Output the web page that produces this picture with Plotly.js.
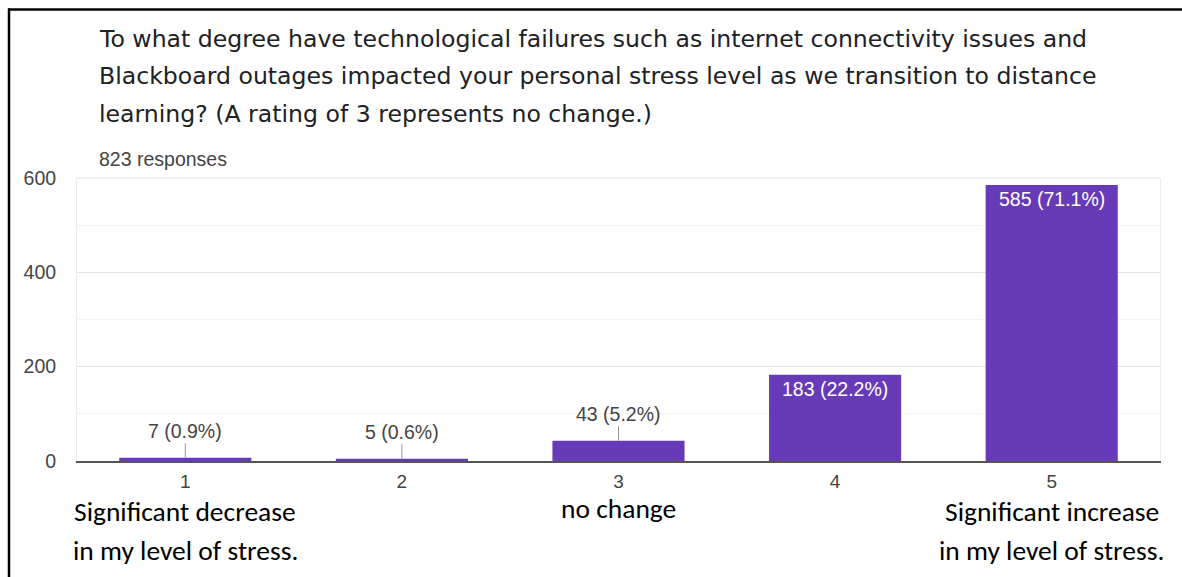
<!DOCTYPE html>
<html><head><meta charset="utf-8">
<script src="https://cdn.plot.ly/plotly-3.0.1.min.js"></script>
<style>html,body{margin:0;padding:0;background:#fff;}#chart{width:1182px;height:577px;}</style>
</head><body><div id="chart"></div>
<script>
const categories = ["1", "2", "3", "4", "5"];
const counts = [7, 5, 43, 183, 585];
const percents = ["0.9%", "0.6%", "5.2%", "22.2%", "71.1%"];
const titleLines = [
  "To what degree have technological failures such as internet connectivity issues and",
  "Blackboard outages impacted your personal stress level as we transition to distance",
  "learning? (A rating of 3 represents no change.)"
];
const subtitle = "823 responses";
const yTicks = [0, 200, 400, 600];
const scaleNotes = [
  {idx: 0, lines: ["Significant decrease", "in my level of stress."]},
  {idx: 2, lines: ["no change"]},
  {idx: 4, lines: ["Significant increase", "in my level of stress."]}
];

const W = 1182, H = 577, L = 77, R = 22, T = 178, B = 116;
const pw = W - L - R, ph = H - T - B;
const px2x = p => (p - L) / pw;
const py2y = p => (H - B - p) / ph;
const labelFont = 'Liberation Sans, Arial, sans-serif';

const annotations = [];
titleLines.forEach((t, i) => {
  annotations.push({text: t, xref: 'paper', yref: 'paper', x: px2x(97), y: py2y(39 + i * 37.5),
    xanchor: 'left', yanchor: 'middle', showarrow: false,
    font: {family: 'DejaVu Sans, sans-serif', size: 23.6, color: '#202124'}});
});
annotations.push({text: subtitle, xref: 'paper', yref: 'paper', x: px2x(97), y: py2y(159),
  xanchor: 'left', yanchor: 'middle', showarrow: false,
  font: {family: labelFont, size: 19.5, color: '#444'}});

categories.forEach((c, i) => {
  const label = counts[i] + " (" + percents[i] + ")";
  if (counts[i] > 100) {
    annotations.push({text: label, x: i, y: counts[i], xref: 'x', yref: 'y', yanchor: 'top',
      yshift: -1, showarrow: false, font: {family: labelFont, size: 19.5, color: '#ffffff'}});
  } else {
    annotations.push({text: label, x: i, y: counts[i], xref: 'x', yref: 'y', showarrow: true,
      arrowhead: 0, arrowwidth: 1, arrowcolor: '#999', ax: 0, ay: -27, standoff: 0,
      font: {family: labelFont, size: 19.5, color: '#444'}});
  }
});

scaleNotes.forEach(n => {
  n.lines.forEach((t, j) => {
    annotations.push({text: t, x: n.idx, xref: 'x', yref: 'paper', y: py2y((n.lines.length === 1 ? 508 : 511) + j * 39),
      yanchor: 'middle', xanchor: 'center', showarrow: false,
      font: {family: 'Carlito, Lato, sans-serif', size: 27.5, color: '#000'}});
  });
});

const shapes = [
  {type: 'line', xref: 'paper', yref: 'paper', x0: 0, x1: 1, y0: 1, y1: 1, line: {color: '#e6e6e6', width: 1}},
  {type: 'line', xref: 'paper', yref: 'paper', x0: px2x(8), x1: px2x(1182), y0: py2y(9.5), y1: py2y(9.5), line: {color: '#000', width: 2.5}},
  {type: 'line', xref: 'paper', yref: 'paper', x0: px2x(9), x1: px2x(9), y0: py2y(8.5), y1: py2y(577), line: {color: '#000', width: 2.5}}
];

const data = [{
  type: 'bar', x: categories, y: counts,
  marker: {color: '#673ab7'}, hoverinfo: 'none'
}];

const layout = {
  width: W, height: H,
  margin: {l: L, r: R, t: T, b: B, pad: 0},
  paper_bgcolor: '#fff', plot_bgcolor: '#fff',
  bargap: 0.39,
  showlegend: false,
  xaxis: {type: 'category', range: [-0.5, 4.5], showline: true, linecolor: '#555', linewidth: 1.5, mirror: false,
    ticks: '', showgrid: false, zeroline: false, ticklabelstandoff: 3,
    tickfont: {family: labelFont, size: 19, color: '#444'}},
  yaxis: {range: [0, 600], tickvals: yTicks, showgrid: true, gridcolor: '#e4e4e4', zeroline: false,
    showline: true, linecolor: '#ececec', mirror: true, ticks: '', ticklabelstandoff: 16,
    minor: {dtick: 100, showgrid: true, gridcolor: '#f3f3f3'},
    tickfont: {family: labelFont, size: 19.5, color: '#444'}},
  annotations: annotations,
  shapes: shapes
};

Plotly.newPlot('chart', data, layout, {displayModeBar: false, staticPlot: true});
</script>
</body></html>
